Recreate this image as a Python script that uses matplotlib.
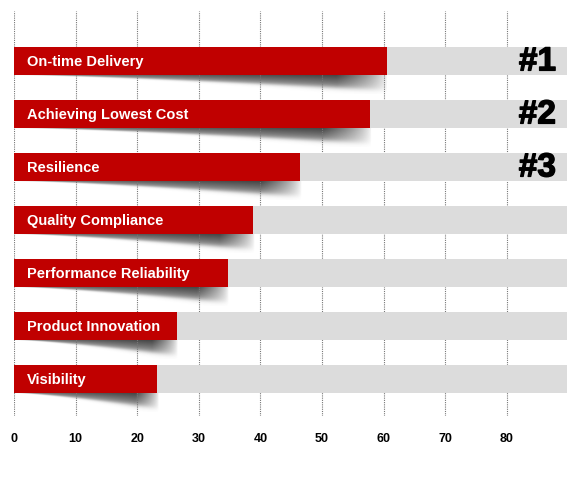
import numpy as np
import matplotlib
matplotlib.use("Agg")
import matplotlib.pyplot as plt
import matplotlib.patheffects as pe

categories = ["On-time Delivery", "Achieving Lowest Cost", "Resilience",
              "Quality Compliance", "Performance Reliability",
              "Product Innovation", "Visibility"]
values = [60.7, 58.0, 46.6, 39.0, 34.9, 26.6, 23.4]
ranks = ["#1", "#2", "#3", "", "", "", ""]
xticks = [0, 10, 20, 30, 40, 50, 60, 70, 80]

plt.rcParams['font.family'] = ['Liberation Sans', 'DejaVu Sans']

fig = plt.figure(figsize=(5.67, 5.01), dpi=100)
ax = fig.add_axes([14/567, 1 - 416/501, 1 - 14/567, (416 - 11)/501])

xmax = (567 - 14) / 6.16
ax.set_xlim(0, xmax)
ax.set_ylim(6.70, -0.94)

bh = 0.53
y = np.arange(len(categories))

ax.barh(y, [100] * len(y), height=bh, color='#DCDCDC', zorder=2, left=0)

# shadows (drawn below grid lines)
for yi, v in zip(y, values):
    bottom = yi + bh / 2
    tmax = 0.29
    H = 0.36
    nx, ny = 400, 90
    xs = np.linspace(0, v, nx)
    ys = np.linspace(bottom, bottom + H, ny)
    X, Y = np.meshgrid(xs, ys)
    r = X / v
    t = tmax * r ** 1.3 + 0.01
    dy = Y - bottom
    u = dy / t
    a = np.clip(1 - 0.45 * u, 0, 1)
    a = a * (1 / (1 + np.exp(-(1.0 - u) / 0.10)))
    flen = 0.12 * v + 1.0
    fade = np.clip((v - X) / flen, 0, 1) ** 0.7
    a = a * fade * (0.8 + 0.2 * r)
    img = np.zeros((ny, nx, 4))
    img[..., 3] = np.clip(a, 0, 1)
    img[..., :3] = 0.22
    ax.imshow(img, extent=(0, v, bottom, bottom + H), origin='lower',
              aspect='auto', zorder=0.2, interpolation='bilinear')

ax.barh(y, values, height=bh, color='#C00000', zorder=3, left=-0.15)

for yi, c in zip(y, categories):
    ax.text(2.1, yi + 0.03, c, color='white', fontweight='bold', fontsize=10.5,
            va='center', ha='left', zorder=4)

for yi, r in zip(y, ranks):
    if r:
        ax.text(88.0, yi + 0.02, r, color='black', fontweight='bold', fontsize=24,
                va='center', ha='right', zorder=4,
                path_effects=[pe.withStroke(linewidth=1.0, foreground='black')])

ax.set_xticks(xticks)
ax.set_xticklabels([str(t) for t in xticks], fontweight='bold', fontsize=9)
ax.set_yticks([])
ax.tick_params(axis='x', length=0, pad=12)
for s in ax.spines.values():
    s.set_visible(False)
ax.set_axisbelow(True)
ax.grid(axis='x', color='#777777', linestyle=(0, (1, 1)), linewidth=0.8)
for gl in ax.get_xgridlines():
    gl.set_zorder(0.5)

fig.savefig("out.png", dpi=100)
